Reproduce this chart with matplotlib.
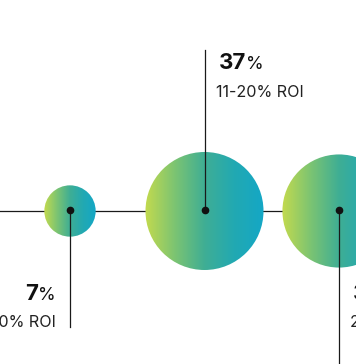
import matplotlib
matplotlib.use("Agg")
import matplotlib.pyplot as plt
import numpy as np
from matplotlib import patches
from matplotlib.colors import LinearSegmentedColormap

# bubble data (third one is cut off at the right edge)
values = [7, 37, 34]
roi_labels = ["1-10% ROI", "11-20% ROI", "21-30% ROI"]
label_side = ["below-left", "above-right", "below-right"]

W, H = 356, 364
x0, step, cy = 70, 134.5, 211
k = 9.7  # radius scale, px per sqrt(percent)

grad = LinearSegmentedColormap.from_list(
    "bubble", ["#c3da4e", "#7cc472", "#3fae94", "#22a9b2", "#14a7c6"])

plt.rcParams['font.family'] = ['Inter', 'DejaVu Sans']

fig = plt.figure(figsize=(W / 100, H / 100), dpi=100)
ax = fig.add_axes([0, 0, 1, 1])
ax.set_xlim(0, W)
ax.set_ylim(H, 0)
ax.axis('off')
renderer = fig.canvas.get_renderer()

centers = [x0 + i * step for i in range(len(values))]
radii = [k * np.sqrt(v) for v in values]

# connecting horizontal line
ax.plot([0, W], [cy, cy], color="#1a1a1a", lw=0.9, zorder=1)

ramp = np.linspace(0, 1, 256).reshape(1, -1)
for cx, r, v, lab, side in zip(centers, radii, values, roi_labels, label_side):
    circ = patches.Circle((cx, cy), r, facecolor="none", edgecolor="none")
    ax.add_patch(circ)
    im = ax.imshow(ramp, cmap=grad, extent=(cx - r, cx + r, cy + r, cy - r),
                   aspect='auto', zorder=2, interpolation='bilinear')
    im.set_clip_path(circ)

    if side.startswith("below"):
        y_big, y_small = cy + 89, cy + 116
        ax.plot([cx, cx], [cy, y_small if side == "below-left" else H + 5],
                color="#1a1a1a", lw=0.9, zorder=3)
    else:
        y_big, y_small = cy - 142, cy - 114
        ax.plot([cx, cx], [cy, 50], color="#1a1a1a", lw=0.9, zorder=3)
    ax.plot(cx, cy - 1.5, 'o', color="#111111", ms=4.5, zorder=4)

    if side.endswith("right"):
        tx = cx + 14
        t1 = ax.text(tx, y_big, str(v), fontsize=16, fontweight='bold',
                     color="#111111", ha='left', va='baseline')
        wpx = t1.get_window_extent(renderer).width
        ax.text(tx + wpx, y_big, "%", fontsize=13, color="#111111",
                ha='left', va='baseline')
        ax.text(tx - 2.5, y_small, lab, fontsize=11.6, color="#222222",
                ha='left', va='baseline')
    else:
        tx = cx - 14
        t2 = ax.text(tx, y_big, "%", fontsize=13, color="#111111",
                     ha='right', va='baseline')
        wpx = t2.get_window_extent(renderer).width
        ax.text(tx - wpx, y_big, str(v), fontsize=16, fontweight='bold',
                color="#111111", ha='right', va='baseline')
        ax.text(tx, y_small, lab, fontsize=11.6, color="#222222",
                ha='right', va='baseline')

fig.savefig("out.png", dpi=100, facecolor="white")
